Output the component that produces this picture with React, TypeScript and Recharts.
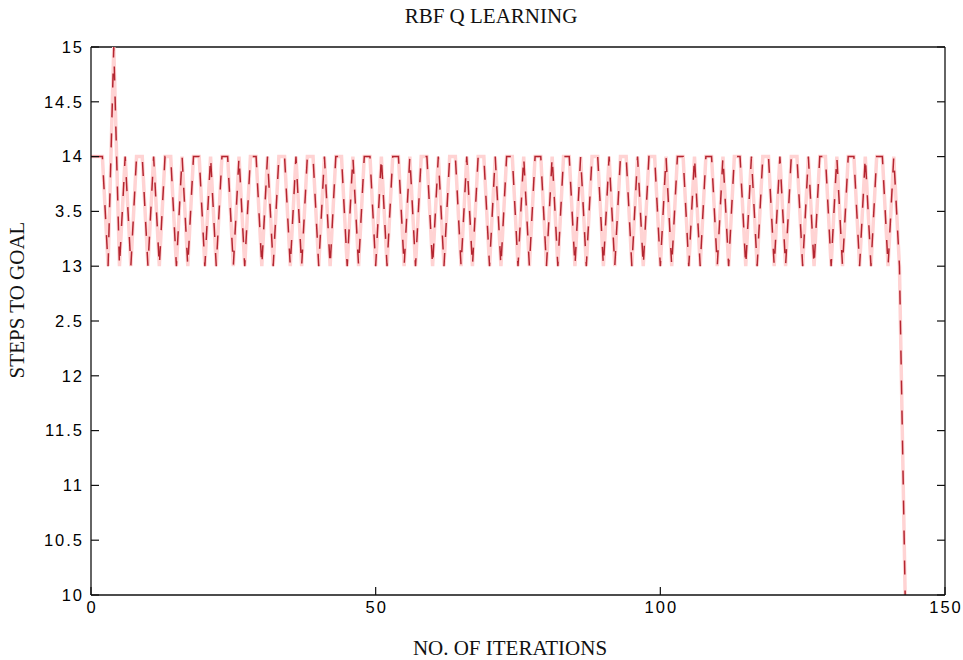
import { LineChart, Line, XAxis, YAxis, ReferenceLine } from 'recharts';

// steps to goal per iteration (iteration = index)
const steps = [
  14, 14, 14, 13, 15, 13, 14, 13, 14, 14,
  13, 14, 13, 14, 14, 13, 14, 13, 14, 14,
  13, 14, 13, 14, 14, 13, 14, 13, 14, 14,
  13, 14, 13, 14, 14, 13, 14, 13, 14, 14,
  13, 14, 13, 14, 14, 13, 14, 13, 14, 14,
  13, 14, 13, 14, 14, 13, 14, 13, 14, 14,
  13, 14, 13, 14, 14, 13, 14, 13, 14, 14,
  13, 14, 13, 14, 14, 13, 14, 13, 14, 14,
  13, 14, 13, 14, 14, 13, 14, 13, 14, 14,
  13, 14, 13, 14, 14, 13, 14, 13, 14, 14,
  13, 14, 13, 14, 14, 13, 14, 13, 14, 14,
  13, 14, 13, 14, 14, 13, 14, 13, 14, 14,
  13, 14, 13, 14, 14, 13, 14, 13, 14, 14,
  13, 14, 13, 14, 14, 13, 14, 13, 14, 14,
  13, 14, 13, 10,
];

const xTicks = [0, 50, 100, 150];
const yTicks = [10, 10.5, 11, 11.5, 12, 12.5, 13, 13.5, 14, 14.5, 15];
// labels as printed on the original figure
const yTickLabels = ['10', '10.5', '11', '11.5', '12', '2.5', '13', '3.5', '14', '14.5', '15'];

const data = steps.map((s, i) => ({ iter: i, steps: s }));

const tickFont = {
  fontFamily: 'Liberation Sans, Arial, sans-serif',
  fontSize: 16.5,
  letterSpacing: 2,
  fill: '#000',
};

const BottomTick = (props: any) => {
  const { x, y, payload } = props;
  return (
    <g>
      <line x1={x} y1={y} x2={x} y2={y - 8} stroke="#111" strokeWidth={1.2} />
      <text x={x + 1} y={y + 18} textAnchor="middle" {...tickFont}>
        {payload.value}
      </text>
    </g>
  );
};

const LeftTick = (props: any) => {
  const { x, y, payload } = props;
  const idx = yTicks.indexOf(payload.value);
  return (
    <g>
      <line x1={x} y1={y} x2={x + 8} y2={y} stroke="#111" strokeWidth={1.2} />
      <text x={x - 7} y={y} dy="0.35em" textAnchor="end" {...tickFont}>
        {idx >= 0 ? yTickLabels[idx] : payload.value}
      </text>
    </g>
  );
};

const RightTick = (props: any) => {
  const { x, y } = props;
  return <line x1={x} y1={y} x2={x - 8} y2={y} stroke="#111" strokeWidth={1.2} />;
};

const serif = 'Liberation Serif, Times New Roman, serif';

export default function App() {
  return (
    <div style={{ position: 'absolute', left: 0, top: 0, width: 963, height: 660, background: '#fff' }}>
      <LineChart
        width={963}
        height={660}
        data={data}
        margin={{ top: 47, right: 0, bottom: 0, left: 0 }}
      >
        <XAxis
          dataKey="iter"
          type="number"
          domain={[0, 150]}
          ticks={xTicks}
          height={65}
          tickSize={0}
          tickMargin={0}
          tickLine={false}
          axisLine={{ stroke: '#111', strokeWidth: 1.3 }}
          tick={<BottomTick />}
          interval={0}
          allowDataOverflow
        />
        <YAxis
          yAxisId="left"
          type="number"
          domain={[10, 15]}
          ticks={yTicks}
          width={91}
          tickSize={0}
          tickMargin={0}
          tickLine={false}
          axisLine={{ stroke: '#111', strokeWidth: 1.3 }}
          tick={<LeftTick />}
          interval={0}
          allowDataOverflow
        />
        <YAxis
          yAxisId="right"
          orientation="right"
          type="number"
          domain={[10, 15]}
          ticks={yTicks}
          width={18}
          tickSize={0}
          tickMargin={0}
          tickLine={false}
          axisLine={{ stroke: '#111', strokeWidth: 1.3 }}
          tick={<RightTick />}
          interval={0}
          allowDataOverflow
        />
        <ReferenceLine yAxisId="left" y={15} stroke="#111" strokeWidth={1.3} />
        <Line
          yAxisId="left"
          type="linear"
          dataKey="steps"
          stroke="#ffd3d3"
          strokeWidth={3.5}
          dot={false}
          isAnimationActive={false}
        />
        <Line
          yAxisId="left"
          type="linear"
          dataKey="steps"
          stroke="#b42530"
          strokeWidth={1.5}
          strokeDasharray="14 16"
          dot={false}
          isAnimationActive={false}
        />
      </LineChart>
      <svg
        width={963}
        height={660}
        style={{ position: 'absolute', left: 0, top: 0, pointerEvents: 'none' }}
      >
        <text x={491} y={23} textAnchor="middle" fontFamily={serif} fontSize={21} fill="#111">
          RBF Q LEARNING
        </text>
        <text x={510} y={655} textAnchor="middle" fontFamily={serif} fontSize={21} fill="#111">
          NO. OF ITERATIONS
        </text>
        <text
          x={0}
          y={0}
          textAnchor="middle"
          fontFamily={serif}
          fontSize={21}
          fill="#111"
          transform="translate(24 300) rotate(-90)"
        >
          STEPS TO GOAL
        </text>
      </svg>
    </div>
  );
}
